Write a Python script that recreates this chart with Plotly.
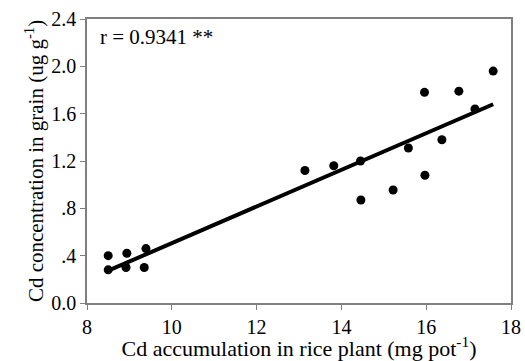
import numpy as np
import plotly.graph_objects as go

# Data
cd_plant = [8.50, 8.50, 8.94, 8.92, 9.39, 9.35, 13.14, 13.82, 14.45, 14.46,
            15.22, 15.58, 15.96, 15.97, 16.37, 16.77, 17.15, 17.58]
cd_grain = [0.40, 0.28, 0.42, 0.30, 0.46, 0.30, 1.12, 1.16, 1.20, 0.87,
            0.955, 1.31, 1.78, 1.08, 1.38, 1.79, 1.64, 1.96]

x_ticks = [8, 10, 12, 14, 16, 18]
y_ticks = [0.0, 0.4, 0.8, 1.2, 1.6, 2.0, 2.4]
y_ticktext = ["0.0", ".4", ".8", "1.2", "1.6", "2.0", "2.4"]
annotation_text = "r = 0.9341 **"

slope, intercept = np.polyfit(cd_plant, cd_grain, 1)
x_line = np.array([min(cd_plant), max(cd_plant)])
y_line = slope * x_line + intercept

font = "Liberation Serif, Times New Roman, serif"
axis_col = "#7f7f7f"

fig = go.Figure()
fig.add_trace(go.Scatter(x=x_line, y=y_line, mode="lines",
                         line=dict(color="black", width=4), showlegend=False))
fig.add_trace(go.Scatter(x=cd_plant, y=cd_grain, mode="markers",
                         marker=dict(color="black", size=9), showlegend=False))

fig.update_layout(
    width=525, height=361,
    margin=dict(l=87, r=14, t=19, b=58, autoexpand=False),
    paper_bgcolor="white", plot_bgcolor="white",
    font=dict(family=font, size=20, color="black"),
    xaxis=dict(range=[8, 18], tickvals=x_ticks, ticks="outside", ticklen=5,
               tickcolor=axis_col, showline=True, linecolor=axis_col, linewidth=1.5,
               mirror=True, showgrid=False, zeroline=False, automargin=False,
               tickfont=dict(family=font, size=20),
               title=dict(text="Cd accumulation in rice plant (mg pot<sup>-1</sup>)",
                          font=dict(family=font, size=22), standoff=4)),
    yaxis=dict(range=[0, 2.4], tickvals=y_ticks, ticktext=y_ticktext, ticks="outside",
               ticklen=5, tickcolor=axis_col, showline=True, linecolor=axis_col,
               linewidth=1.5, mirror=True, showgrid=False, zeroline=False, automargin=False,
               tickfont=dict(family=font, size=20),
               title=dict(text="Cd concentration in grain (ug g<sup>-1</sup>)",
                          font=dict(family=font, size=21), standoff=2)),
    annotations=[dict(text=annotation_text, x=0.025, y=0.985, xref="paper", yref="paper",
                      xanchor="left", yanchor="top", showarrow=False,
                      font=dict(size=21, family=font))],
)

fig.write_html("out.html")
